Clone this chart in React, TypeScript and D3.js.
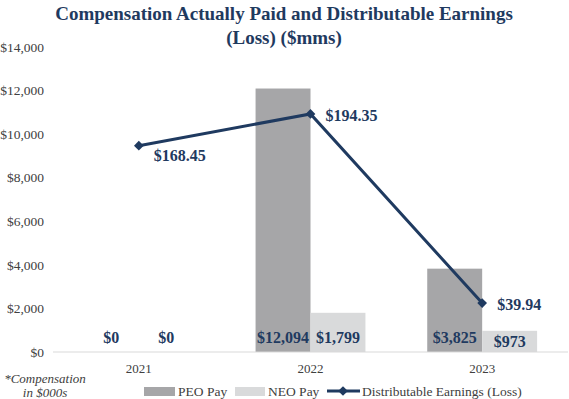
import React from "react";
import * as d3 from "d3";

const years = ["2021", "2022", "2023"];
const peoPay = [0, 12094, 3825];
const neoPay = [0, 1799, 973];
const earnings = [168.45, 194.35, 39.94];
const payLabels = [
  ["$0", "$0"],
  ["$12,094", "$1,799"],
  ["$3,825", "$973"],
];
const earnLabels = ["$168.45", "$194.35", "$39.94"];
const yTicks = [0, 2000, 4000, 6000, 8000, 10000, 12000, 14000];

const W = 569;
const H = 399;
const margin = { top: 47, right: 1, bottom: 47, left: 53 };
const navy = "#1f3a60";
const serif = "Liberation Serif";

export default function App() {
  const x0 = d3
    .scaleBand()
    .domain(years)
    .range([margin.left, W - margin.right]);
  const bw = x0.bandwidth();
  const x1 = d3
    .scaleBand()
    .domain(["PEO", "NEO"])
    .range([bw * 0.18, bw * 0.82]);

  const y = d3
    .scaleLinear()
    .domain([0, 14000])
    .range([H - margin.bottom, margin.top]);
  // secondary axis for the line (hidden)
  const y2 = d3
    .scaleLinear()
    .domain([0, 249])
    .range([H - margin.bottom, margin.top]);

  const cx = (i) => x0(years[i]) + bw / 2;
  const line = d3
    .line()
    .x((d, i) => cx(i))
    .y((d) => y2(d));

  const diamond = d3.symbol().type(d3.symbolDiamond2).size(60)();

  return (
    <svg
      width={W}
      height={H}
      fontFamily={serif}
      style={{ position: "absolute", left: 0, top: 0 }}
    >
      <rect width={W} height={H} fill="white" />
      <g fontFamily={serif} fontSize={19} fontWeight="bold" fill={navy} textAnchor="middle">
        <text x={284} y={20}>
          Compensation Actually Paid and Distributable Earnings
        </text>
        <text x={284} y={44}>
          (Loss) ($mms)
        </text>
      </g>

      {yTicks.map((t) => (
        <text
          key={t}
          x={44}
          y={y(t)}
          dy="0.35em"
          textAnchor="end"
          fontSize={13.5}
          fontFamily={serif}
          fill="#404040"
        >
          {d3.format("$,")(t)}
        </text>
      ))}

      {years.map((yr, i) => (
        <g key={yr}>
          <rect
            x={x0(yr) + x1("PEO")}
            y={y(peoPay[i])}
            width={x1.bandwidth()}
            height={y(0) - y(peoPay[i])}
            fill="#a6a6a8"
          />
          <rect
            x={x0(yr) + x1("NEO")}
            y={y(neoPay[i])}
            width={x1.bandwidth()}
            height={y(0) - y(neoPay[i])}
            fill="#d9dadb"
          />
        </g>
      ))}

      <line
        x1={margin.left}
        x2={W - margin.right}
        y1={y(0)}
        y2={y(0)}
        stroke="#d9d9d9"
        strokeWidth={1}
      />

      {years.map((yr, i) => (
        <g
          key={yr}
          fontSize={16}
          fontWeight="bold"
          fontFamily={serif}
          fill={navy}
          textAnchor="middle"
        >
          <text x={x0(yr) + x1("PEO") + x1.bandwidth() / 2} y={y(0) - 15} dy="0.35em">
            {payLabels[i][0]}
          </text>
          <text
            x={x0(yr) + x1("NEO") + x1.bandwidth() / 2}
            y={y(0) - (neoPay[i] > 0 && neoPay[i] < 1200 ? 11 : 15)}
            dy="0.35em"
          >
            {payLabels[i][1]}
          </text>
        </g>
      ))}

      {years.map((yr, i) => (
        <text
          key={yr}
          x={cx(i)}
          y={y(0) + 16}
          dy="0.35em"
          textAnchor="middle"
          fontSize={13}
          fontFamily={serif}
          fill="#404040"
        >
          {yr}
        </text>
      ))}

      <path d={line(earnings)} fill="none" stroke={navy} strokeWidth={3} />
      {earnings.map((v, i) => (
        <path key={i} d={diamond} transform={`translate(${cx(i)},${y2(v)})`} fill={navy} />
      ))}
      {earnings.map((v, i) => (
        <text
          key={i}
          x={cx(i) + 15}
          y={y2(v) + (i === 0 ? 10 : 1)}
          dy="0.35em"
          fontSize={16}
          fontWeight="bold"
          fontFamily={serif}
          fill={navy}
        >
          {earnLabels[i]}
        </text>
      ))}

      <g fontSize={13} fontStyle="italic" fontFamily={serif} fill="#404040" textAnchor="middle">
        <text x={45} y={378} dy="0.35em">*Compensation</text>
        <text x={45} y={392} dy="0.35em">in $000s</text>
      </g>

      <g fontSize={13.5} fontFamily={serif} fill="#404040">
        <rect x={144} y={387} width={31} height={9} fill="#a6a6a8" />
        <text x={178} y={391} dy="0.35em">PEO Pay</text>
        <rect x={235} y={387} width={30} height={9} fill="#d9dadb" />
        <text x={268} y={391} dy="0.35em">NEO Pay</text>
        <line x1={327} x2={360} y1={391} y2={391} stroke={navy} strokeWidth={3} />
        <path d={diamond} transform="translate(343,391)" fill={navy} />
        <text x={362} y={391} dy="0.35em">Distributable Earnings (Loss)</text>
      </g>
    </svg>
  );
}
